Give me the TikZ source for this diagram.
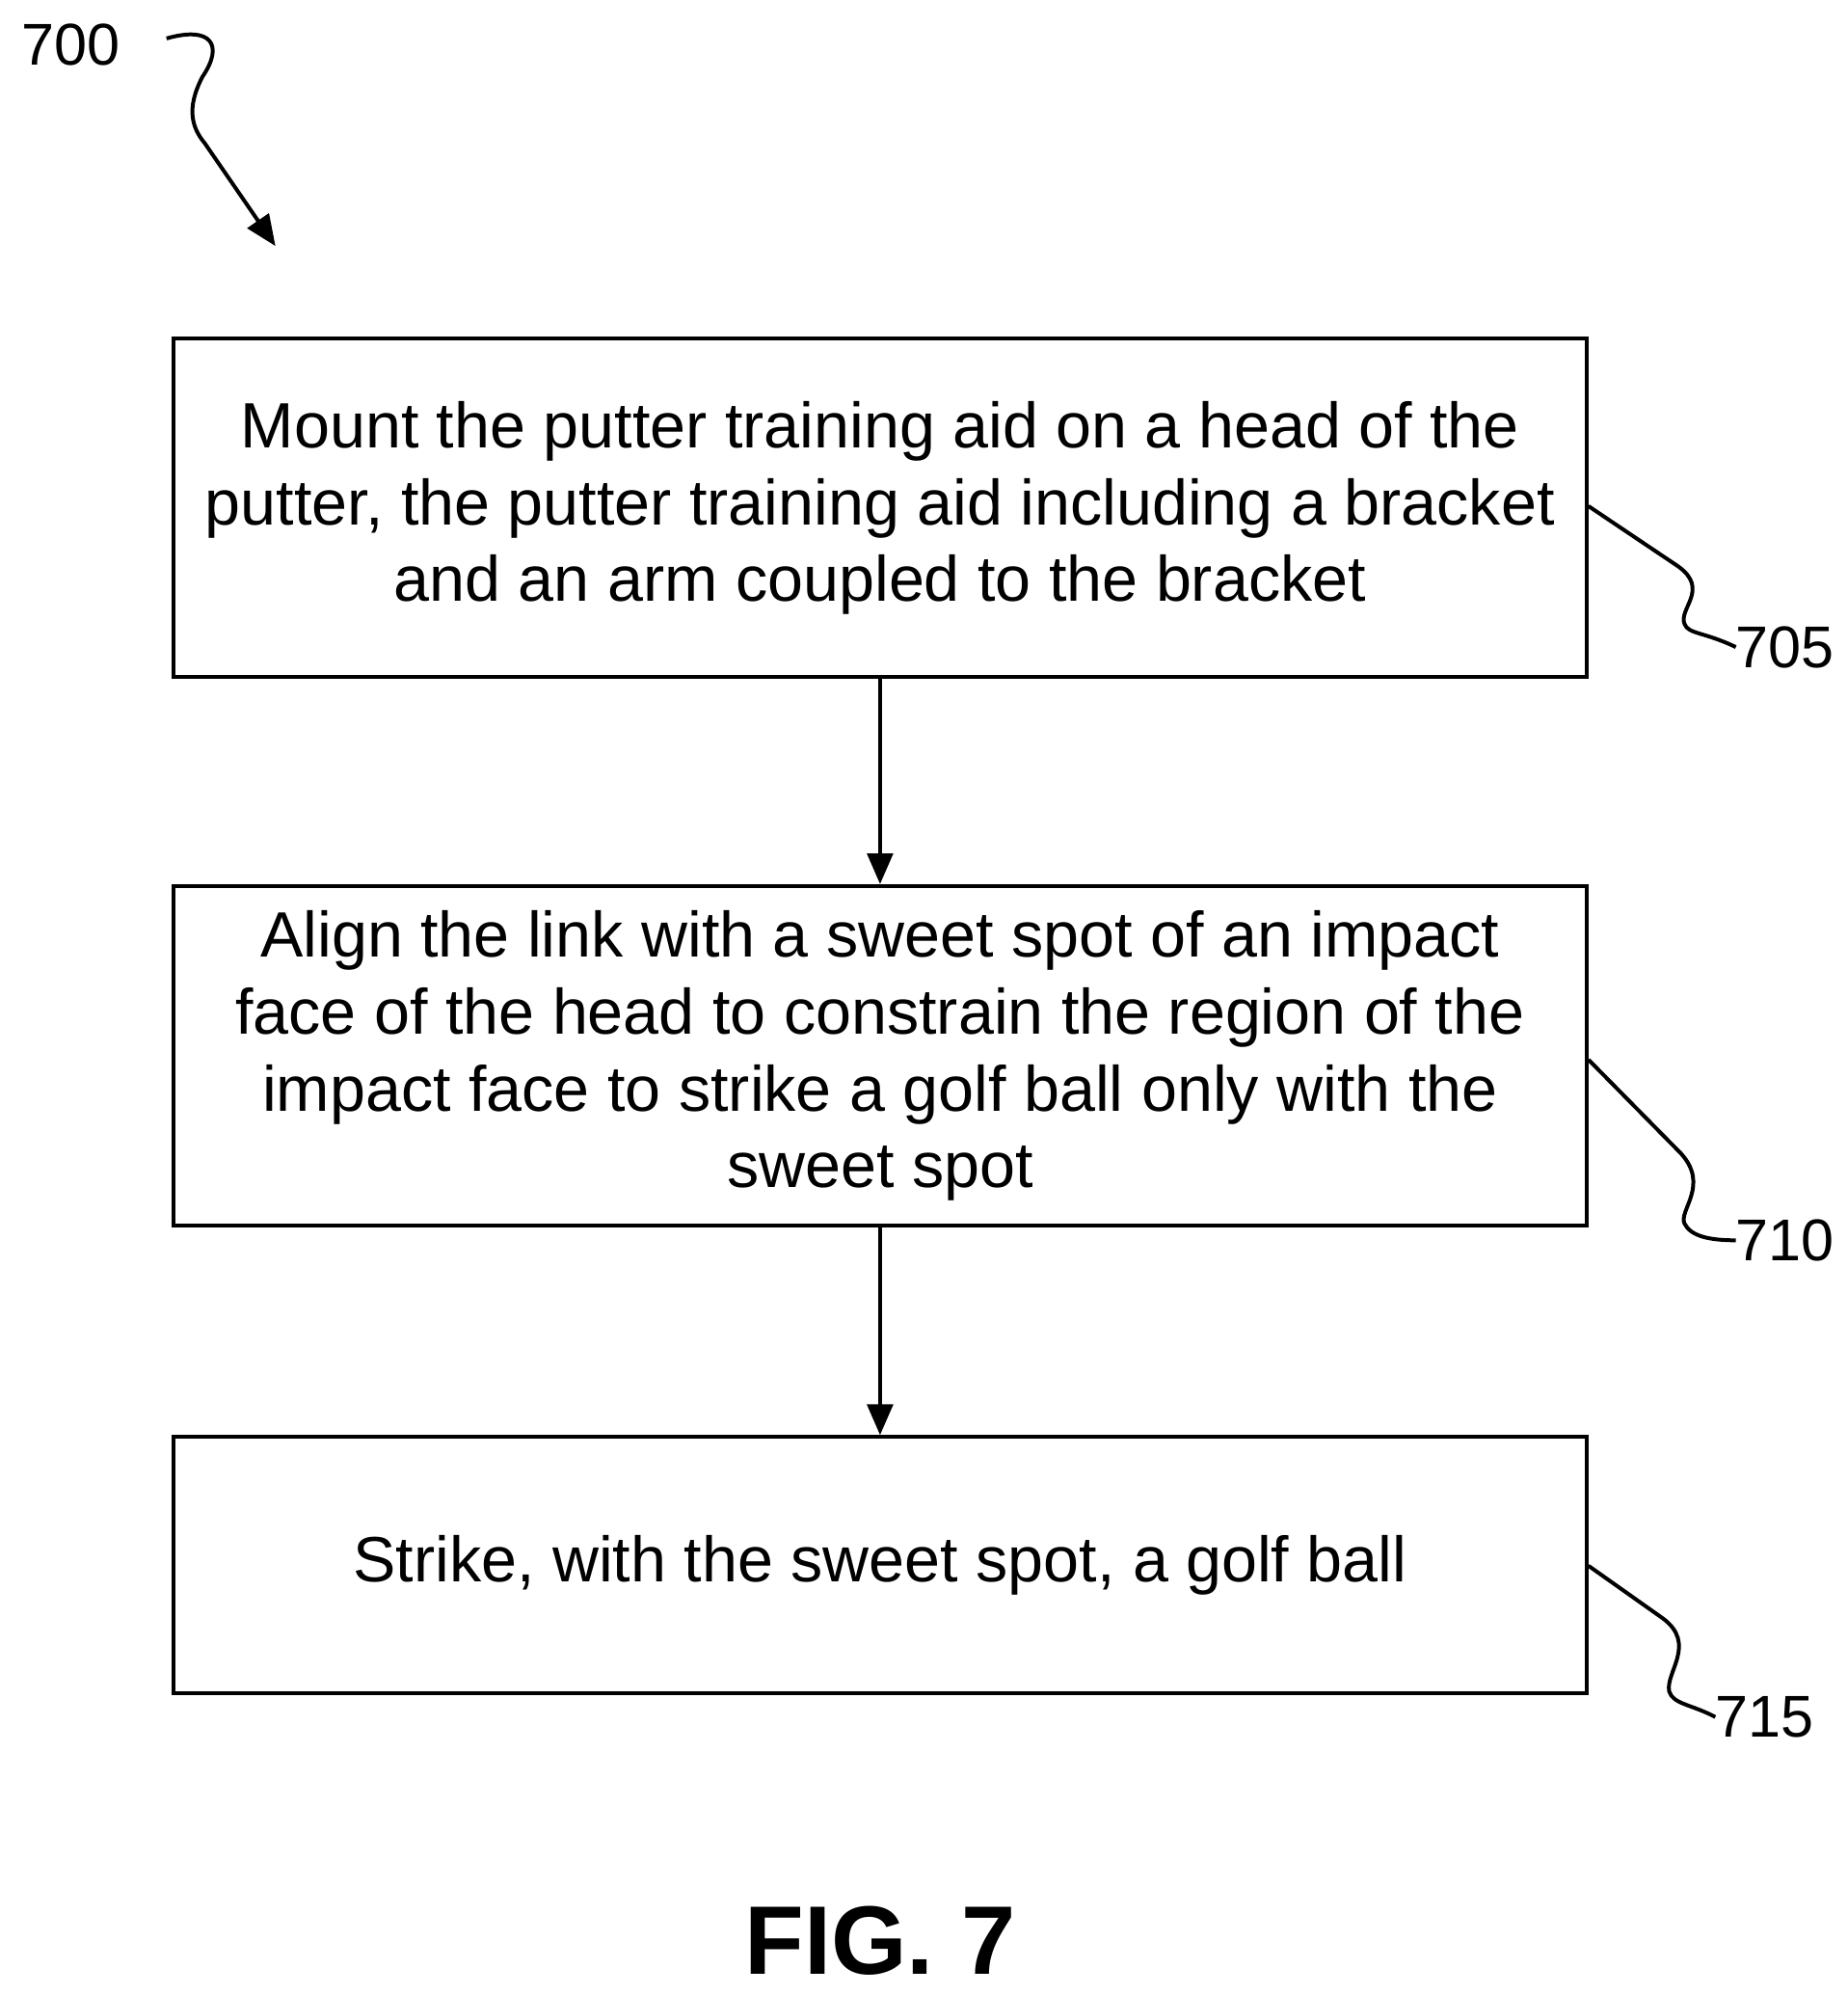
\documentclass[tikz,border=0pt]{standalone}
\usepackage{fontspec}
\setmainfont{Liberation Sans}
\usetikzlibrary{arrows.meta}
\begin{document}
\begin{tikzpicture}[x=1pt,y=-1pt,
  box/.style={draw,line width=3pt,minimum width=1103pt,align=center,font=\fontsize{50}{60}\selectfont,inner sep=0pt},
  lbl/.style={font=\fontsize{46}{52}\selectfont,inner sep=0pt},
  lead/.style={line width=3pt},
  arr/.style={line width=3pt,-{Triangle[length=24pt,width=20pt]}}]
\useasboundingbox (0,0) rectangle (1442,1557);
\node[box,minimum height=264pt] (b1) at (687,396.5) {Mount the putter training aid on a head of the\\putter, the putter training aid including a bracket\\and an arm coupled to the bracket};
\node[box,minimum height=265pt] (b2) at (687,824) {Align the link with a sweet spot of an impact\\face of the head to constrain the region of the\\impact face to strike a golf ball only with the\\sweet spot};
\node[box,minimum height=200pt] (b3) at (687,1221.5) {Strike, with the sweet spot, a golf ball};
\draw[arr] (b1) -- (b2);
\draw[arr] (b2) -- (b3);
\node[lbl] (t700) at (55,35) {700};
\node[lbl,anchor=west] (t705) at (1355,505) {705};
\node[lbl,anchor=west] (t710) at (1355,968) {710};
\node[lbl,anchor=west] (t715) at (1339,1340) {715};
\coordinate (s0) at (130,30);
\draw[arr] (s0) .. controls (165,20) and (175,35) .. (158,60) .. controls (145,85) and (150,100) .. (160,112) -- (215,192);
\draw[lead] (1240,395) -- (1310,442) .. controls (1335,460) and (1310,475) .. (1315,487) .. controls (1318,495) and (1330,493) .. (t705.west);
\draw[lead] (1240,827) -- (1312,900) .. controls (1335,925) and (1310,945) .. (1315,955) .. controls (1320,965) and (1335,968) .. (t710.west);
\draw[lead] (1240,1222) -- (1298,1263) .. controls (1325,1283) and (1300,1305) .. (1303,1320) .. controls (1306,1330) and (1320,1330) .. (t715.west);
\node[font=\fontsize{76}{80}\selectfont\bfseries,inner sep=0pt] (fig) at (687,1515) {FIG. 7};
\end{tikzpicture}
\end{document}
